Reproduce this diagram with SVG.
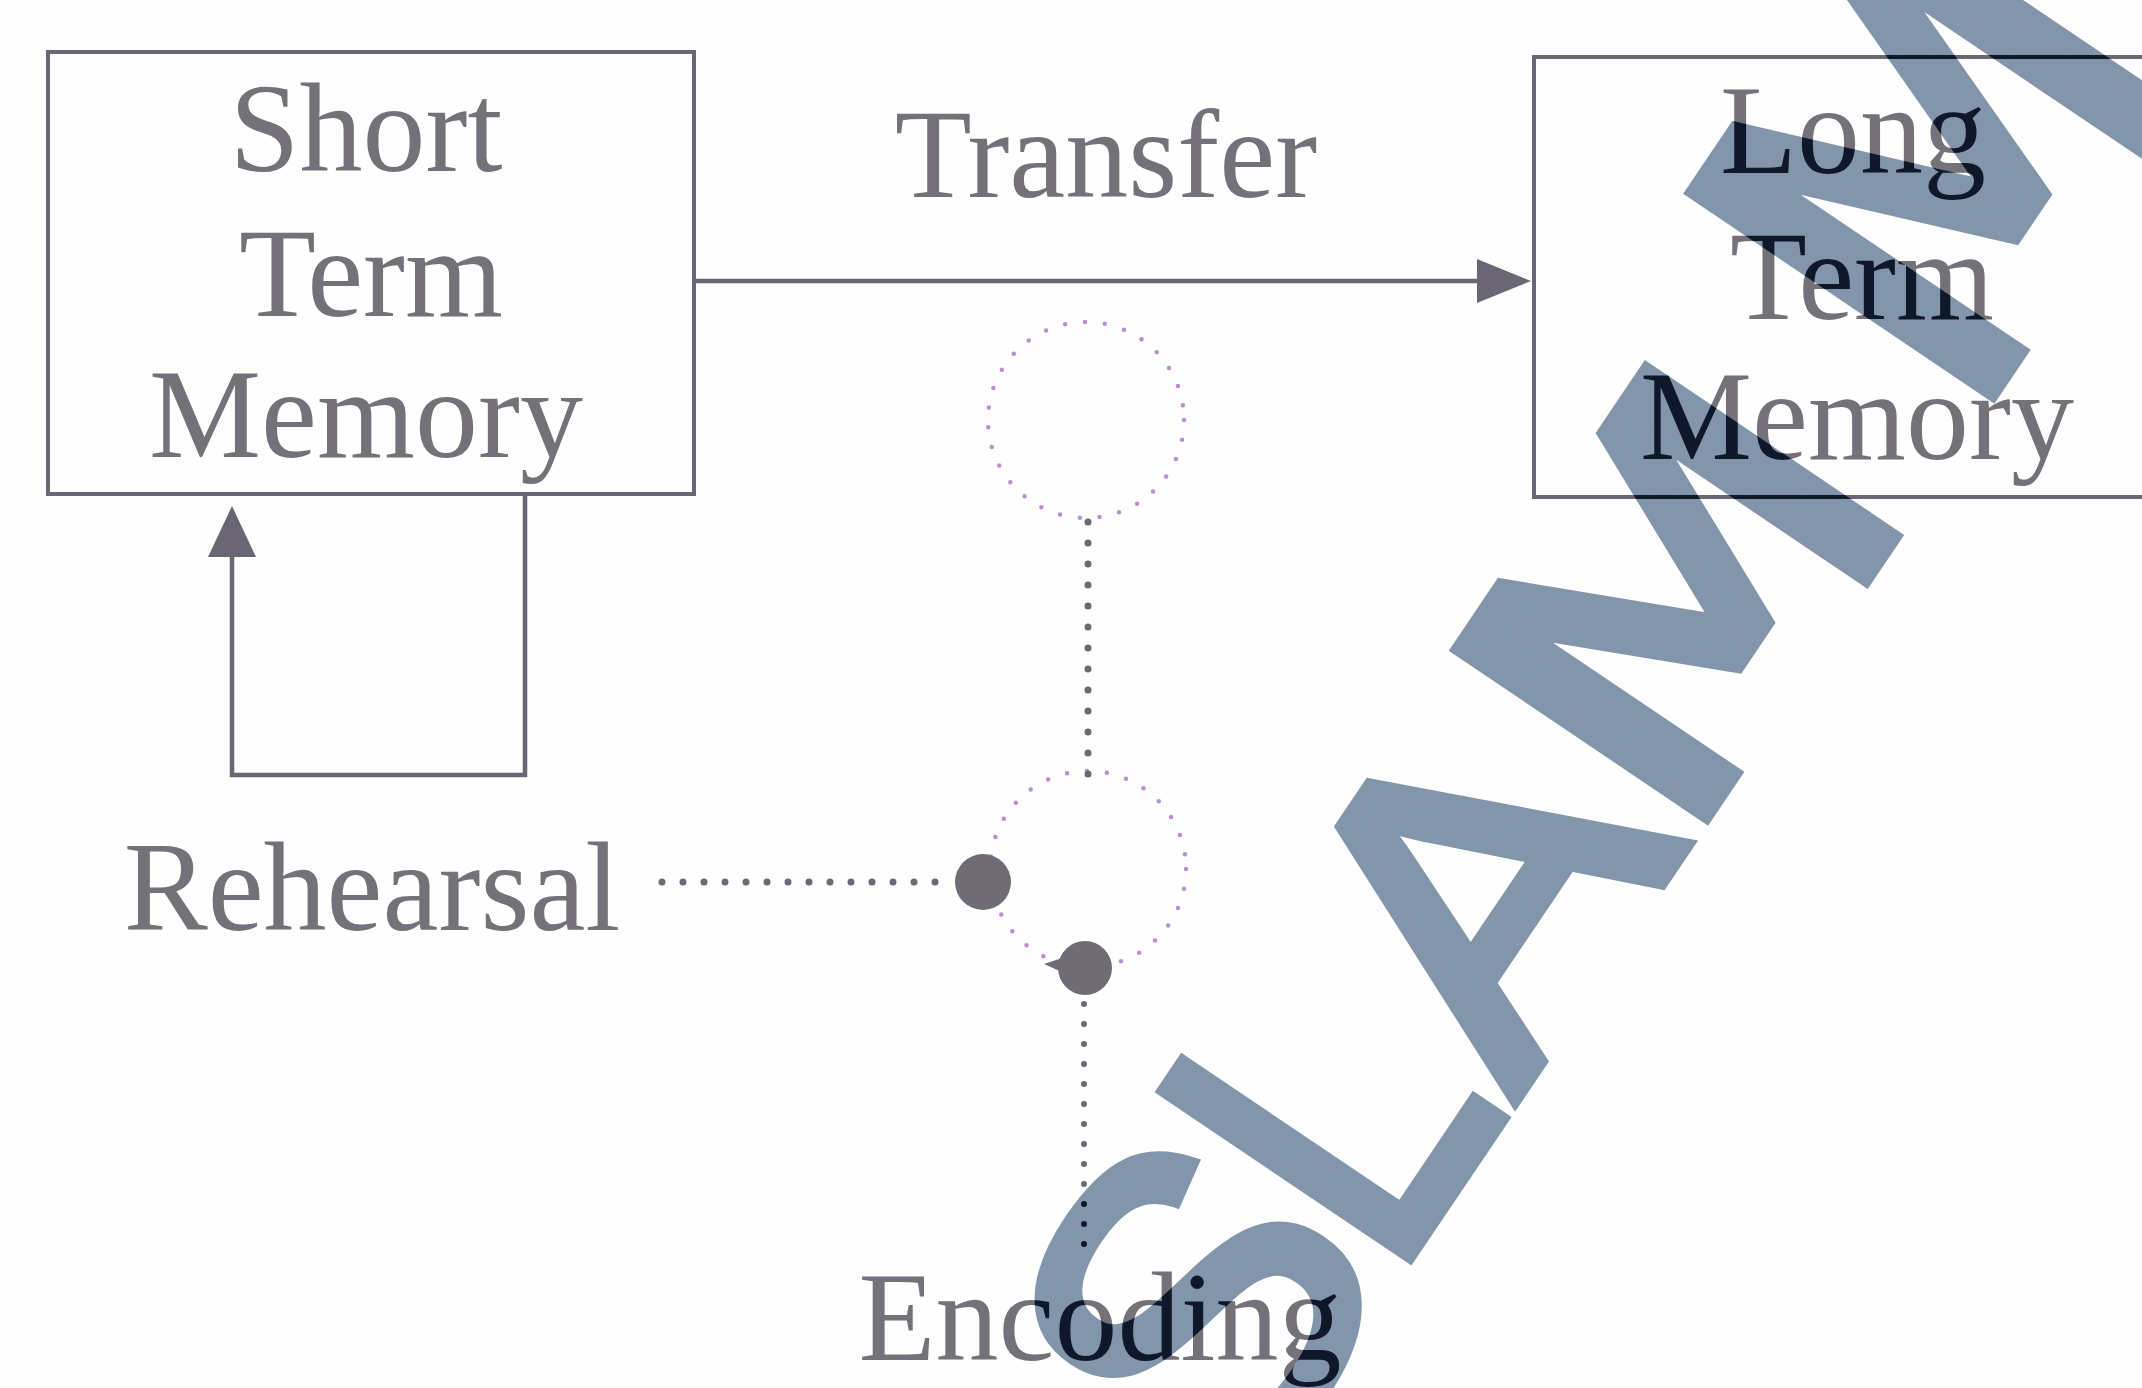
<svg xmlns="http://www.w3.org/2000/svg" width="2142" height="1388" viewBox="0 0 2142 1388">
  <style>
    .lbl{font-family:"Liberation Serif","Times New Roman",serif;font-size:126px;fill:var(--ink,#747278);text-anchor:middle}
    .box{fill:none;stroke:var(--line,#6a6674);stroke-width:4}
    .wire{fill:none;stroke:var(--line,#6a6674);stroke-width:4.5}
    .head{fill:var(--line,#6a6674)}
    .ring{fill:none;stroke:var(--ring,#b98fd2);stroke-width:4.5;stroke-dasharray:0 20;stroke-linecap:round}
    .dots{fill:none;stroke:var(--dot,#6c6876);stroke-width:7;stroke-dasharray:0 21;stroke-linecap:round}
    .dots.fine{stroke-width:6;stroke-dasharray:0 20}
    .knob{fill:var(--dot,#6f6c76)}
    .wm text{font-family:"Liberation Sans",Arial,sans-serif;font-size:430px;stroke-width:14;stroke-linejoin:miter}
    .wm text.m{font-family:"DejaVu Sans",sans-serif;font-size:410px}
  </style>
  <defs>
    <!-- large rotated background lettering -->
    <g id="wmGlyphs" class="wm">
      <g transform="translate(1404,1264) rotate(-56)">
        <text x="-296" y="0">S</text>
        <text x="-25" y="0" transform="scale(0.88,1)">L</text>
        <text x="185.5" y="0" transform="scale(1.07,1)">A</text>
        <text class="m" x="404" y="0" transform="scale(1.22,1)">M</text>
        <text class="m" x="822" y="0" transform="scale(1.22,1.2)">M</text>
      </g>
    </g>
    <mask id="wmMask" maskUnits="userSpaceOnUse" x="0" y="0" width="2142" height="1388">
      <use href="#wmGlyphs" fill="#fff" stroke="#fff"/>
    </mask>
  </defs>

  <rect width="2142" height="1388" fill="#fefefe"/>

  <g id="diagram">
    <g id="stm">
      <rect class="box" x="48" y="52" width="646" height="442"/>
      <text class="lbl" x="366" y="171">Short</text>
      <text class="lbl" x="371" y="316">Term</text>
      <text class="lbl" x="366" y="457">Memory</text>
    </g>
    <g id="ltm">
      <rect class="box" x="1534" y="57" width="640" height="440"/>
      <text class="lbl" x="1853" y="173">Long</text>
      <text class="lbl" x="1862" y="319">Term</text>
      <text class="lbl" x="1857" y="459">Memory</text>
    </g>
    <g id="junction-upper">
      <circle class="ring" cx="1086" cy="420" r="98"/>
    </g>
    <g id="junction-lower">
      <circle class="ring" cx="1088" cy="869" r="98"/>
      <circle class="knob" cx="983" cy="882" r="28"/>
      <circle class="knob" cx="1085" cy="968" r="27"/>
      <path class="knob" d="M1062 958 L1044 964 L1062 972 Z"/>
    </g>
    <g id="label-transfer">
      <text class="lbl" x="1106" y="197">Transfer</text>
    </g>
    <g id="label-rehearsal">
      <text class="lbl" x="372" y="930">Rehearsal</text>
    </g>
    <g id="label-encoding">
      <text class="lbl" x="1100" y="1360">Encoding</text>
    </g>
    <g id="connectors">
      <!-- transfer: STM to LTM -->
      <path class="wire" d="M694 281 H1482"/>
      <polygon class="head" points="1531,281 1477,259 1477,303"/>
      <!-- rehearsal loop back into STM -->
      <path class="wire" d="M525 494 V775 H232 V552"/>
      <polygon class="head" points="232,506 208,557 256,557"/>
      <!-- dotted links between the junctions and labels -->
      <path class="dots" d="M1088 522 V776"/>
      <path class="dots" d="M662 882 H950"/>
      <path class="dots fine" d="M1084 1004 V1250"/>
    </g>
  </g>

  <use href="#wmGlyphs" fill="#8395aa" stroke="#8395aa"/>
  <!-- ink that falls on the lettering prints darker -->
  <use href="#diagram" mask="url(#wmMask)" style="--ink:#0f172a;--line:#0f172a;--dot:#0f172a;--ring:#2c2c5a"/>
</svg>
